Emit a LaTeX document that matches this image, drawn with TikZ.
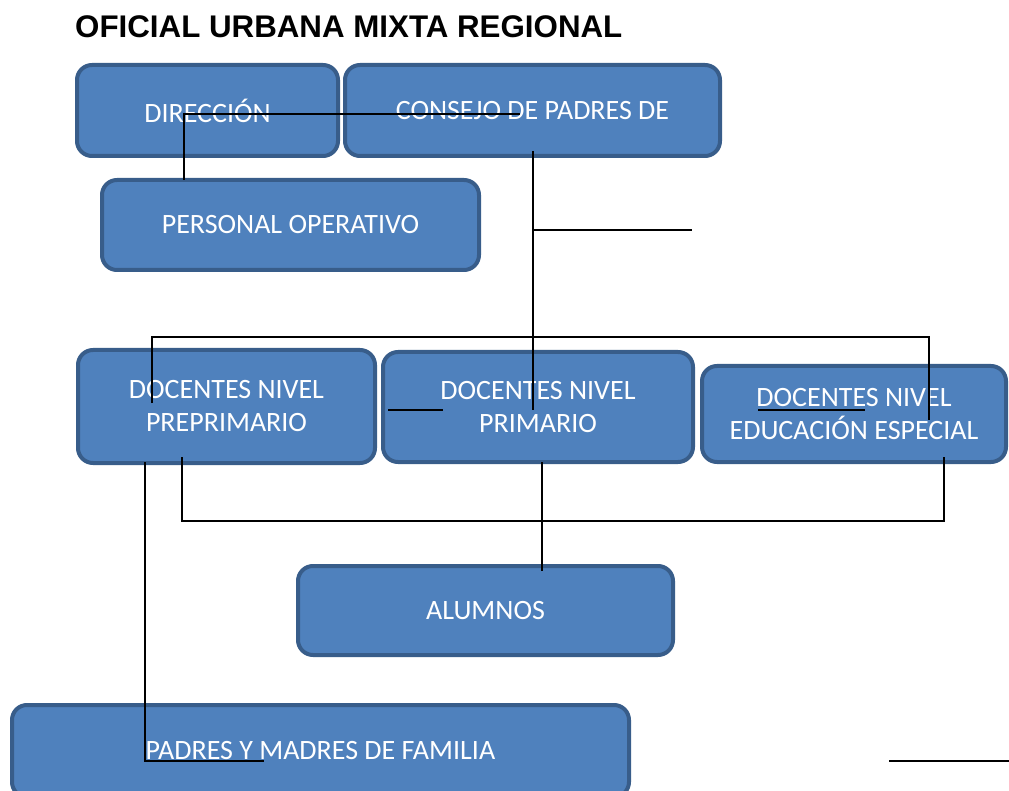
\documentclass[tikz,border=0pt]{standalone}
\usepackage{fontspec}
\setmainfont{Carlito}
\newfontfamily\titulofont{Liberation Sans}
\usepackage{tikz}
\definecolor{cajaazul}{HTML}{4F81BD}
\definecolor{bordeazul}{HTML}{385D8A}
\tikzset{
  caja/.style={draw=bordeazul, fill=cajaazul, line width=4pt, rounded corners=15pt,
    text=white, align=center, inner sep=0pt, font=\fontsize{28}{33}\selectfont},
  linea/.style={line width=1.5pt, black}
}
\begin{document}
\begin{tikzpicture}[x=1pt, y=-1pt]
    \useasboundingbox (0,0) rectangle (1009,791);
    \node[anchor=base west, inner sep=0pt, font=\titulofont\bfseries\fontsize{31.3}{36}\selectfont] (titulo) at (75,38) {OFICIAL URBANA MIXTA REGIONAL};

    \node[caja, minimum width=261pt, minimum height=91pt] (dir) at (207.5,110.5) {DIRECCIÓN};
    \node[caja, minimum width=375pt, minimum height=91pt] (consejo) at (532.5,110.5) {CONSEJO DE PADRES DE};
    \node[caja, minimum width=377pt, minimum height=90pt] (personal) at (290.5,225) {PERSONAL OPERATIVO};
    \node[caja, minimum width=297pt, minimum height=113pt] (pre) at (226.5,406.5) {DOCENTES NIVEL\\PREPRIMARIO};
    \node[caja, minimum width=310pt, minimum height=110pt] (prim) at (538,407) {DOCENTES NIVEL\\PRIMARIO};
    \node[caja, minimum width=304pt, minimum height=96pt] (esp) at (854,414) {DOCENTES NIVEL\\EDUCACIÓN ESPECIAL};
    \node[caja, minimum width=375pt, minimum height=89pt] (alumnos) at (485.5,610.5) {ALUMNOS};
    \node[caja, minimum width=617pt, minimum height=92pt] (padres) at (320.5,751) {PADRES Y MADRES DE FAMILIA};

    \coordinate (d1) at (520,114);
    \coordinate (d2) at (184,114);
    \coordinate (d3) at (184,180);
    \coordinate (c1) at (533,151);
    \coordinate (c2) at (533,410);
    \coordinate (c3) at (533,230);
    \coordinate (c4) at (692,230);
    \coordinate (n1) at (152,403);
    \coordinate (n2) at (152,337);
    \coordinate (n3) at (929,337);
    \coordinate (n4) at (929,420);
    \coordinate (m1) at (388,410);
    \coordinate (m2) at (443,410);
    \coordinate (e1) at (758,410);
    \coordinate (e2) at (865,410);
    \coordinate (b1) at (182,457);
    \coordinate (b2) at (182,521);
    \coordinate (b3) at (944,521);
    \coordinate (b4) at (944,457);
    \coordinate (a1) at (542,462);
    \coordinate (a2) at (542,571);
    \coordinate (p1) at (145,462);
    \coordinate (p2) at (145,761);
    \coordinate (p3) at (264,761);
    \coordinate (r1) at (889,761);
    \coordinate (r2) at (1009,761);

    \draw[linea] (d1) -- (d2) -- (d3);
    \draw[linea] (c1) -- (c2);
    \draw[linea] (c3) -- (c4);
    \draw[linea] (n1) -- (n2) -- (n3) -- (n4);
    \draw[linea] (m1) -- (m2);
    \draw[linea] (e1) -- (e2);
    \draw[linea] (b1) -- (b2) -- (b3) -- (b4);
    \draw[linea] (a1) -- (a2);
    \draw[linea] (p1) -- (p2) -- (p3);
    \draw[linea] (r1) -- (r2);
\end{tikzpicture}
\end{document}
